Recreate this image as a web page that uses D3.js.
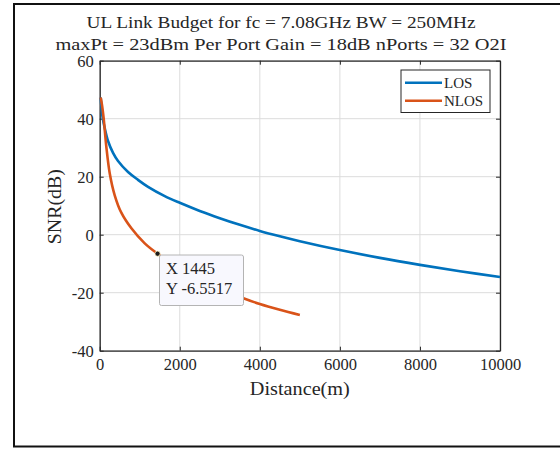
<!DOCTYPE html>
<html>
<head>
<meta charset="utf-8">
<script src="https://cdn.jsdelivr.net/npm/d3@7"></script>
<style>
html,body{margin:0;padding:0;background:#fff;}
svg{display:block;}
text{font-family:"Liberation Serif","Times New Roman",serif;fill:#262626;}
</style>
</head>
<body>
<svg id="chart" width="560" height="450"></svg>
<script>
// ---- data ----
const titleLines = ["UL Link Budget for fc = 7.08GHz BW = 250MHz",
                    "maxPt = 23dBm Per Port Gain = 18dB nPorts = 32 O2I"];
const xLabel = "Distance(m)";
const yLabel = "SNR(dB)";
const seriesNames = ["LOS", "NLOS"];
const xTicks = [0, 2000, 4000, 6000, 8000, 10000];
const yTicks = [-40, -20, 0, 20, 40, 60];

const losDist = [25, 50, 75, 125, 208, 333, 458, 708, 958, 1208, 1625, 2000, 2500, 3000, 3500, 4000, 4500, 5000, 6000, 7000, 8000, 9000, 10000];
const losSNR  = [47.3, 43.2, 40.2, 36.8, 32.3, 28.2, 25.4, 21.6, 18.9, 16.5, 13.3, 11.0, 8.2, 5.7, 3.4, 1.3, -0.55, -2.25, -5.3, -8.0, -10.4, -12.6, -14.6];

const nlosDist = [25, 60, 100, 165, 250, 375, 540, 792, 1125, 1445, 2000, 2500, 3000, 3590, 4000, 4500, 5000];
const nlosSNR  = [47.3, 44.5, 40.0, 30.4, 21.2, 13.6, 7.6, 2.2, -3.0, -6.5517, -11.7, -15.4, -18.6, -21.9, -23.9, -25.9, -27.7];

const tipX = 1445, tipY = -6.5517;
const tipLines = ["X 1445", "Y -6.5517"];

// ---- drawing ----
const svg = d3.select("#chart");
const m = {left: 99.7, right: 500, top: 60.7, bottom: 350.7};

// figure frame
svg.append("rect").attr("x", 14).attr("y", 4).attr("width", 560).attr("height", 442.5)
  .attr("fill", "#fff").attr("stroke", "#111").attr("stroke-width", 2);

const x = d3.scaleLinear().domain([0, 10000]).range([m.left, m.right]);
const y = d3.scaleLinear().domain([-40, 60]).range([m.bottom, m.top]);
const fmt = d => String(d);

// grid
const grid = svg.append("g");
grid.selectAll("line.gx").data(xTicks).join("line")
  .attr("x1", d => x(d)).attr("x2", d => x(d)).attr("y1", m.top).attr("y2", m.bottom)
  .attr("stroke", "#dcdcdc").attr("stroke-width", 1);
grid.selectAll("line.gy").data(yTicks).join("line")
  .attr("y1", d => y(d)).attr("y2", d => y(d)).attr("x1", m.left).attr("x2", m.right)
  .attr("stroke", "#dcdcdc").attr("stroke-width", 1);

// axes
const tickLen = 4;
const axB = svg.append("g").attr("transform", `translate(0,${m.bottom})`)
  .call(d3.axisBottom(x).tickValues(xTicks).tickFormat(fmt).tickSizeInner(-tickLen).tickSizeOuter(0).tickPadding(8));
const axT = svg.append("g").attr("transform", `translate(0,${m.top})`)
  .call(d3.axisTop(x).tickValues(xTicks).tickFormat("").tickSizeInner(-tickLen).tickSizeOuter(0));
const axL = svg.append("g").attr("transform", `translate(${m.left},0)`)
  .call(d3.axisLeft(y).tickValues(yTicks).tickFormat(fmt).tickSizeInner(-tickLen).tickSizeOuter(0).tickPadding(6));
const axR = svg.append("g").attr("transform", `translate(${m.right},0)`)
  .call(d3.axisRight(y).tickValues(yTicks).tickFormat("").tickSizeInner(-tickLen).tickSizeOuter(0));
[axB, axT, axL, axR].forEach(a => {
  a.select(".domain").attr("stroke", "#262626").attr("stroke-width", 1.3);
  a.selectAll(".tick line").attr("stroke", "#262626").attr("stroke-width", 1);
  a.selectAll("text").attr("font-family", "Liberation Serif, serif").attr("font-size", 16.5).attr("fill", "#262626");
});
axB.selectAll(".tick text").attr("dy", "0.71em");
axL.selectAll(".tick text").attr("dy", "0.36em");

// lines
const line = d3.line().x(d => x(d[0])).y(d => y(d[1])).curve(d3.curveCatmullRom.alpha(0.5));
const los = losDist.map((d, i) => [d, losSNR[i]]);
const nlos = nlosDist.map((d, i) => [d, nlosSNR[i]]);
const colors = ["#0072BD", "#D95319"];
svg.append("path").datum(los).attr("d", line).attr("fill", "none")
  .attr("stroke", colors[0]).attr("stroke-width", 2.6).attr("stroke-linejoin", "round");
svg.append("path").datum(nlos).attr("d", line).attr("fill", "none")
  .attr("stroke", colors[1]).attr("stroke-width", 2.6).attr("stroke-linejoin", "round");

// title
const titleW = [389, 451];
svg.append("g").selectAll("text").data(titleLines).join("text")
  .attr("x", 281).attr("y", (d, i) => 28 + i * 21.5)
  .attr("text-anchor", "middle").attr("font-size", 17.5)
  .attr("textLength", (d, i) => titleW[i]).attr("lengthAdjust", "spacingAndGlyphs")
  .text(d => d);

// axis labels
svg.append("text").attr("x", (m.left + m.right) / 2).attr("y", 395)
  .attr("text-anchor", "middle").attr("font-size", 18)
  .attr("textLength", 100).attr("lengthAdjust", "spacingAndGlyphs").text(xLabel);
svg.append("text").attr("transform", `translate(61,${(m.top + m.bottom) / 2 + 1}) rotate(-90)`)
  .attr("text-anchor", "middle").attr("font-size", 18)
  .attr("textLength", 75).attr("lengthAdjust", "spacingAndGlyphs").text(yLabel);

// legend
const lg = svg.append("g");
lg.append("rect").attr("x", 401).attr("y", 70).attr("width", 89).attr("height", 42.5)
  .attr("fill", "#fff").attr("stroke", "#262626").attr("stroke-width", 1);
seriesNames.forEach((nm, i) => {
  const yy = 82.7 + i * 18;
  lg.append("line").attr("x1", 405).attr("x2", 442).attr("y1", yy).attr("y2", yy)
    .attr("stroke", colors[i]).attr("stroke-width", 2.6);
  lg.append("text").attr("x", 444).attr("y", yy).attr("dy", "0.35em")
    .attr("font-size", 15).text(nm);
});

// data tip
const tg = svg.append("g");
tg.append("rect").attr("x", 159.5).attr("y", 255).attr("width", 84).attr("height", 50.5)
  .attr("rx", 2).attr("fill", "#f8f8fe").attr("stroke", "#b4b4b4").attr("stroke-width", 1);
tg.selectAll("text").data(tipLines).join("text")
  .attr("x", 166).attr("y", (d, i) => 273.5 + i * 20.5).attr("font-size", 16.5).text(d => d);
tg.append("circle").attr("cx", x(tipX)).attr("cy", y(tipY)).attr("r", 2.6)
  .attr("fill", "#1a1a1a").attr("stroke", "#fff6c8").attr("stroke-width", 0.8);
</script>
</body>
</html>
